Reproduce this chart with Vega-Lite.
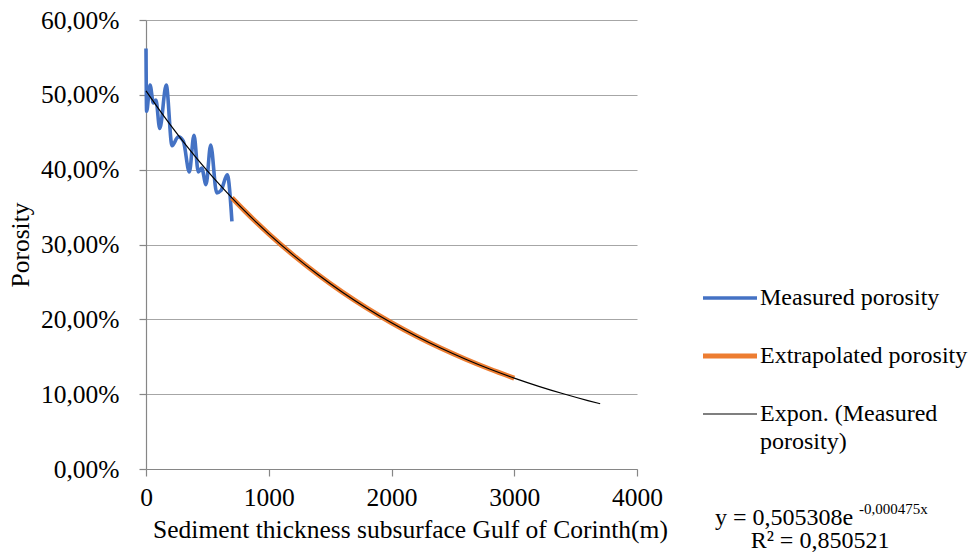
{
  "$schema": "https://vega.github.io/schema/vega-lite/v6.json",
  "autosize": "none",
  "width": 491,
  "height": 449,
  "padding": {"left": 146, "top": 20, "right": 331, "bottom": 85},
  "background": "white",
  "config": {
    "font": "Liberation Serif",
    "view": {"stroke": null},
    "style": {"guide-label": {"lineHeight": 28}},
    "axis": {"labelFont": "Liberation Serif", "titleFont": "Liberation Serif", "labelColor": "#000000", "titleColor": "#000000", "titleFontWeight": "normal", "labelFontSize": 25.5, "titleFontSize": 25.5, "domainColor": "#868686", "tickColor": "#868686", "gridColor": "#A6A6A6", "domainWidth": 1.2, "tickWidth": 1.2, "gridWidth": 1.2}
  },
  "datasets": {
    "series": [
      {"x": 0, "porosity": 0.562, "series": "Measured porosity"},
      {"x": 5, "porosity": 0.478, "series": "Measured porosity"},
      {"x": 33, "porosity": 0.513, "series": "Measured porosity"},
      {"x": 60, "porosity": 0.489, "series": "Measured porosity"},
      {"x": 81, "porosity": 0.493, "series": "Measured porosity"},
      {"x": 112, "porosity": 0.455, "series": "Measured porosity"},
      {"x": 165, "porosity": 0.513, "series": "Measured porosity"},
      {"x": 212, "porosity": 0.432, "series": "Measured porosity"},
      {"x": 263, "porosity": 0.444, "series": "Measured porosity"},
      {"x": 304, "porosity": 0.438, "series": "Measured porosity"},
      {"x": 353, "porosity": 0.397, "series": "Measured porosity"},
      {"x": 391, "porosity": 0.446, "series": "Measured porosity"},
      {"x": 426, "porosity": 0.397, "series": "Measured porosity"},
      {"x": 454, "porosity": 0.402, "series": "Measured porosity"},
      {"x": 489, "porosity": 0.380, "series": "Measured porosity"},
      {"x": 527, "porosity": 0.433, "series": "Measured porosity"},
      {"x": 576, "porosity": 0.369, "series": "Measured porosity"},
      {"x": 610, "porosity": 0.372, "series": "Measured porosity"},
      {"x": 662, "porosity": 0.393, "series": "Measured porosity"},
      {"x": 700, "porosity": 0.331, "series": "Measured porosity"},
      {"x": 700, "porosity": 0.3624, "series": "Extrapolated porosity"},
      {"x": 800, "porosity": 0.3456, "series": "Extrapolated porosity"},
      {"x": 900, "porosity": 0.3295, "series": "Extrapolated porosity"},
      {"x": 1000, "porosity": 0.3142, "series": "Extrapolated porosity"},
      {"x": 1200, "porosity": 0.2858, "series": "Extrapolated porosity"},
      {"x": 1400, "porosity": 0.2599, "series": "Extrapolated porosity"},
      {"x": 1600, "porosity": 0.2363, "series": "Extrapolated porosity"},
      {"x": 1800, "porosity": 0.2149, "series": "Extrapolated porosity"},
      {"x": 2000, "porosity": 0.1954, "series": "Extrapolated porosity"},
      {"x": 2200, "porosity": 0.1777, "series": "Extrapolated porosity"},
      {"x": 2400, "porosity": 0.1616, "series": "Extrapolated porosity"},
      {"x": 2600, "porosity": 0.1470, "series": "Extrapolated porosity"},
      {"x": 2800, "porosity": 0.1336, "series": "Extrapolated porosity"},
      {"x": 3000, "porosity": 0.1215, "series": "Extrapolated porosity"},
      {"x": 0, "porosity": 0.5053, "series": "Expon. (Measured porosity)"},
      {"x": 100, "porosity": 0.4819, "series": "Expon. (Measured porosity)"},
      {"x": 200, "porosity": 0.4595, "series": "Expon. (Measured porosity)"},
      {"x": 300, "porosity": 0.4382, "series": "Expon. (Measured porosity)"},
      {"x": 400, "porosity": 0.4179, "series": "Expon. (Measured porosity)"},
      {"x": 500, "porosity": 0.3985, "series": "Expon. (Measured porosity)"},
      {"x": 600, "porosity": 0.3800, "series": "Expon. (Measured porosity)"},
      {"x": 700, "porosity": 0.3624, "series": "Expon. (Measured porosity)"},
      {"x": 800, "porosity": 0.3456, "series": "Expon. (Measured porosity)"},
      {"x": 900, "porosity": 0.3295, "series": "Expon. (Measured porosity)"},
      {"x": 1000, "porosity": 0.3142, "series": "Expon. (Measured porosity)"},
      {"x": 1200, "porosity": 0.2858, "series": "Expon. (Measured porosity)"},
      {"x": 1400, "porosity": 0.2599, "series": "Expon. (Measured porosity)"},
      {"x": 1600, "porosity": 0.2363, "series": "Expon. (Measured porosity)"},
      {"x": 1800, "porosity": 0.2149, "series": "Expon. (Measured porosity)"},
      {"x": 2000, "porosity": 0.1954, "series": "Expon. (Measured porosity)"},
      {"x": 2200, "porosity": 0.1777, "series": "Expon. (Measured porosity)"},
      {"x": 2400, "porosity": 0.1616, "series": "Expon. (Measured porosity)"},
      {"x": 2600, "porosity": 0.1470, "series": "Expon. (Measured porosity)"},
      {"x": 2800, "porosity": 0.1336, "series": "Expon. (Measured porosity)"},
      {"x": 3000, "porosity": 0.1215, "series": "Expon. (Measured porosity)"},
      {"x": 3200, "porosity": 0.1105, "series": "Expon. (Measured porosity)"},
      {"x": 3400, "porosity": 0.1005, "series": "Expon. (Measured porosity)"},
      {"x": 3600, "porosity": 0.0914, "series": "Expon. (Measured porosity)"},
      {"x": 3700, "porosity": 0.0872, "series": "Expon. (Measured porosity)"}
    ],
    "note": [{}]
  },
  "layer": [
    {
      "data": {"name": "series"},
      "encoding": {
        "x": {"field": "x", "type": "quantitative", "scale": {"domain": [0, 4000], "nice": false, "zero": false},
          "axis": {"title": "Sediment thickness subsurface Gulf of Corinth(m)", "titleX": 264, "titleAlign": "center", "values": [0, 1000, 2000, 3000, 4000], "format": "d", "grid": false, "tickSize": 7, "labelPadding": 9, "titlePadding": 7, "labelFlush": false}},
        "y": {"field": "porosity", "type": "quantitative", "scale": {"domain": [0, 0.6], "nice": false},
          "axis": {"title": "Porosity", "values": [0, 0.1, 0.2, 0.3, 0.4, 0.5, 0.6], "labelExpr": "replace(format(datum.value, '.2%'), '.', ',')", "grid": true, "tickSize": 7, "labelPadding": 20, "titlePadding": 7}},
        "color": {"field": "series", "type": "nominal",
          "scale": {"domain": ["Measured porosity", "Extrapolated porosity", "Expon. (Measured porosity)"], "range": ["#4472C4", "#ED7D31", "#000000"]},
          "legend": {"title": null, "orient": "none", "legendX": 572, "legendY": 266, "symbolType": "stroke", "symbolSize": 2916, "symbolStrokeWidth": 3, "labelFont": "Liberation Serif", "labelFontSize": 24, "labelColor": "#000000", "labelLimit": 400, "labelOffset": 18, "rowPadding": 34, "padding": 0,
            "labelExpr": "datum.label == 'Expon. (Measured porosity)' ? ['Expon. (Measured', 'porosity)'] : datum.label",
            "encode": {"symbols": {"update": {"size": {"value": 2916}, "shape": {"value": "stroke"}, "strokeWidth": {"signal": "datum.value === 'Expon. (Measured porosity)' ? 1.2 : (datum.value === 'Measured porosity' ? 3.4 : 5)"}}}}}}
      },
      "layer": [
        {"transform": [{"filter": "datum.series == 'Measured porosity'"}], "mark": {"type": "line", "interpolate": "monotone", "strokeWidth": 3.6}},
        {"transform": [{"filter": "datum.series == 'Extrapolated porosity'"}], "mark": {"type": "line", "interpolate": "monotone", "strokeWidth": 5}},
        {"transform": [{"filter": "datum.series == 'Expon. (Measured porosity)'"}], "mark": {"type": "line", "interpolate": "monotone", "strokeWidth": 1.2}}
      ]
    },
    {"data": {"name": "note"}, "mark": {"type": "text", "align": "left", "baseline": "middle", "font": "Liberation Serif", "fontSize": 24, "color": "#000000"},
      "encoding": {"x": {"datum": 4635}, "y": {"datum": -0.0655}, "text": {"value": "y = 0,505308e"}}},
    {"data": {"name": "note"}, "mark": {"type": "text", "align": "left", "baseline": "middle", "font": "Liberation Serif", "fontSize": 15, "color": "#000000"},
      "encoding": {"x": {"datum": 5809}, "y": {"datum": -0.0535}, "text": {"value": "-0,000475x"}}},
    {"data": {"name": "note"}, "mark": {"type": "text", "align": "center", "baseline": "middle", "font": "Liberation Serif", "fontSize": 24, "color": "#000000"},
      "encoding": {"x": {"datum": 5491}, "y": {"datum": -0.0962}, "text": {"value": "R² = 0,850521"}}}
  ]
}
